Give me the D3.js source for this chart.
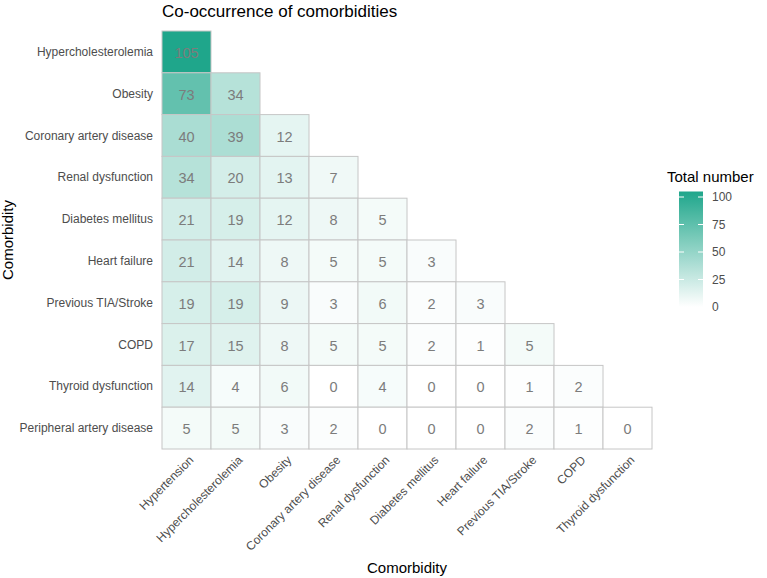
<!DOCTYPE html>
<html><head><meta charset="utf-8">
<script src="https://cdn.jsdelivr.net/npm/d3@7"></script>
<style>body{margin:0;background:#fff;font-family:"Liberation Sans",Arial,sans-serif;}</style>
</head><body><svg id="c" width="767" height="578"></svg>
<script>
const rowCats = ["Hypercholesterolemia","Obesity","Coronary artery disease","Renal dysfunction","Diabetes mellitus","Heart failure","Previous TIA/Stroke","COPD","Thyroid dysfunction","Peripheral artery disease"];
const colCats = ["Hypertension","Hypercholesterolemia","Obesity","Coronary artery disease","Renal dysfunction","Diabetes mellitus","Heart failure","Previous TIA/Stroke","COPD","Thyroid dysfunction"];
const values = [
  [105],
  [73,34],
  [40,39,12],
  [34,20,13,7],
  [21,19,12,8,5],
  [21,14,8,5,5,3],
  [19,19,9,3,6,2,3],
  [17,15,8,5,5,2,1,5],
  [14,4,6,0,4,0,0,1,2],
  [5,5,3,2,0,0,0,2,1,0]
];
const legendTicks = [0,25,50,75,100];
const title = "Co-occurrence of comorbidities";

(function(){
const svg = d3.select("#c");
const pL=162, pR=652, pT=31, pB=449;
const x = d3.scaleBand().domain(colCats).range([pL,pR]);
const y = d3.scaleBand().domain(rowCats).range([pT,pB]);
const maxV = 105;
const color = d3.scaleLinear().domain([0,maxV]).range(["#ffffff","#1fa68b"]);

const cells = [];
values.forEach((row,i)=>row.forEach((v,j)=>cells.push({r:rowCats[i],c:colCats[j],v})));

svg.append("g").selectAll("rect").data(cells).join("rect")
  .attr("x",d=>x(d.c)).attr("y",d=>y(d.r))
  .attr("width",x.bandwidth()).attr("height",y.bandwidth())
  .attr("fill",d=>color(d.v)).attr("stroke","#c6c6c6").attr("stroke-width",1);

svg.append("g").selectAll("text").data(cells).join("text")
  .attr("x",d=>x(d.c)+x.bandwidth()/2).attr("y",d=>y(d.r)+y.bandwidth()/2+1)
  .attr("text-anchor","middle").attr("dominant-baseline","central")
  .attr("font-size",14.5).attr("fill","#7c7c7c")
  .text(d=>d.v);

svg.append("g").selectAll("text").data(rowCats).join("text")
  .attr("x",pL-9).attr("y",d=>y(d)+y.bandwidth()/2)
  .attr("text-anchor","end").attr("dominant-baseline","central")
  .attr("font-size",12).attr("fill","#4d4d4d").text(d=>d);

svg.append("g").selectAll("text").data(colCats).join("text")
  .attr("transform",d=>`translate(${x(d)+x.bandwidth()/2+5},${pB+9}) rotate(-45)`)
  .attr("text-anchor","end").attr("dominant-baseline","central")
  .attr("font-size",12).attr("fill","#4d4d4d").text(d=>d);

svg.append("text").attr("x",(pL+pR)/2).attr("y",573).attr("text-anchor","middle")
  .attr("font-size",15).attr("fill","#000").text("Comorbidity");
svg.append("text").attr("transform",`translate(13,${(pT+pB)/2}) rotate(-90)`).attr("text-anchor","middle")
  .attr("font-size",15).attr("fill","#000").text("Comorbidity");

svg.append("text").attr("x",pL).attr("y",17).attr("font-size",17).attr("fill","#000").text(title);

const lx=679, lw=24;
const ly = d3.scaleLinear().domain([0,maxV]).range([307,191.5]);
const defs = svg.append("defs");
const grad = defs.append("linearGradient").attr("id","g").attr("x1",0).attr("y1",1).attr("x2",0).attr("y2",0);
d3.range(0,1.0001,0.1).forEach(t=>grad.append("stop").attr("offset",t).attr("stop-color",color(t*maxV)));
svg.append("text").attr("x",667).attr("y",182).attr("font-size",15).attr("fill","#000").text("Total number");
svg.append("rect").attr("x",lx).attr("y",ly(maxV)).attr("width",lw).attr("height",ly(0)-ly(maxV)).attr("fill","url(#g)");
const lt = svg.append("g");
legendTicks.forEach(t=>{
  lt.append("line").attr("x1",lx).attr("x2",lx+5).attr("y1",ly(t)).attr("y2",ly(t)).attr("stroke","#fff").attr("stroke-width",1);
  lt.append("line").attr("x1",lx+lw-5).attr("x2",lx+lw).attr("y1",ly(t)).attr("y2",ly(t)).attr("stroke","#fff").attr("stroke-width",1);
  lt.append("text").attr("x",712).attr("y",ly(t)).attr("dominant-baseline","central")
    .attr("font-size",12).attr("fill","#4d4d4d").text(t);
});
})();
</script></body></html>
